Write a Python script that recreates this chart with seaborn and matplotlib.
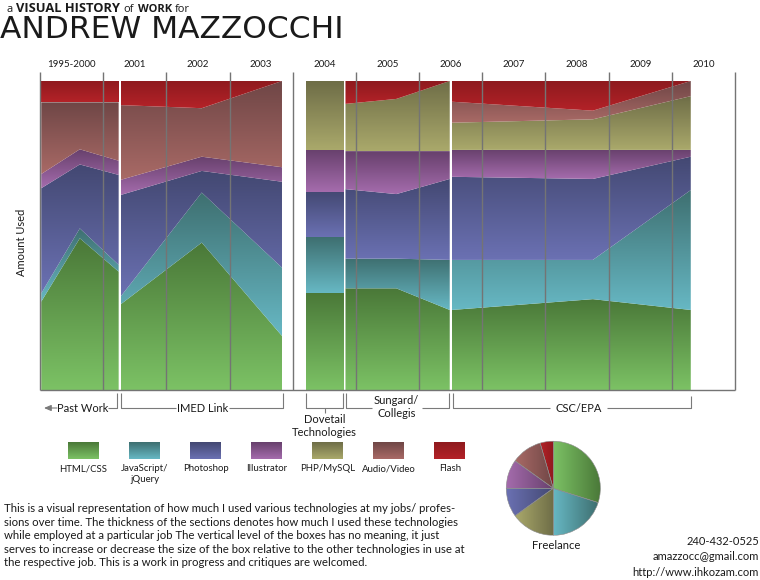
import numpy as np
import matplotlib
matplotlib.use("Agg")
import matplotlib.pyplot as plt
from matplotlib.colors import LinearSegmentedColormap
import seaborn as sns

# ---------------- data ----------------
technologies = ["HTML/CSS", "JavaScript/\njQuery", "Photoshop", "Illustrator",
                "PHP/MySQL", "Audio/Video", "Flash"]
top_colors = ["#4a7838", "#3e6f70", "#434872", "#67406c", "#6e6d47", "#6f4646", "#8e1a1e"]
bottom_colors = ["#7cc265", "#67b8c4", "#6b71b3", "#a56cad", "#aaa96b", "#a96a66", "#b42228"]

years = ["1995-2000", "2001", "2002", "2003", "2004", "2005",
         "2006", "2007", "2008", "2009", "2010"]

jobs = ["Past Work", "IMED Link", "Dovetail\nTechnologies", "Sungard/\nCollegis", "CSC/EPA"]

# x positions (year-column units) and usage per technology (rows follow `technologies`)
past_work_x = [0.02, 0.63, 1.245]
past_work_use = [[28.6, 49.1, 38.3], [2.7, 3.2, 2.2], [34.0, 20.7, 29.1], [4.6, 4.9, 4.6],
                 [0.0, 0.0, 0.0], [23.2, 15.2, 18.9], [6.9, 6.9, 6.9]]

imed_x = [1.275, 2.56, 3.83]
imed_use = [[27.7, 47.7, 17.5], [2.5, 16.2, 22.1], [32.9, 7.0, 27.8], [4.9, 4.6, 4.7],
            [0.0, 0.0, 0.0], [24.2, 15.7, 27.9], [7.8, 8.8, 0.0]]

dovetail_x = [4.21, 4.81]
dovetail_use = [[31.5, 31.5], [17.9, 17.9], [14.6, 14.6], [13.8, 13.8],
                [22.2, 22.2], [0.0, 0.0], [0.0, 0.0]]

sungard_x = [4.835, 5.64, 6.485]
sungard_use = [[32.9, 32.9, 25.9], [9.6, 9.6, 16.2], [22.5, 20.9, 26.2], [12.3, 13.9, 9.0],
               [15.3, 16.9, 22.7], [0.0, 0.0, 0.0], [7.4, 5.8, 0.0]]

csc_x = [6.515, 8.75, 10.30]
csc_use = [[25.9, 29.4, 25.9], [16.2, 12.7, 38.8], [26.9, 26.2, 10.8], [8.7, 9.4, 2.2],
           [8.8, 9.9, 17.4], [6.8, 2.8, 4.9], [6.7, 9.6, 0.0]]

freelance_order = ["HTML/CSS", "JavaScript/\njQuery", "PHP/MySQL", "Photoshop",
                   "Illustrator", "Audio/Video", "Flash"]
freelance_share = [29.9, 20.1, 15.1, 9.9, 9.9, 10.6, 4.5]

title_small = [("a", "normal"), ("VISUAL HISTORY", "bold"), ("of", "normal"),
               ("WORK", "bold"), ("for", "normal")]
title_big = "ANDREW MAZZOCCHI"
description = [
    "This is a visual representation of how much I used various technologies at my jobs/ profes-",
    "sions over time. The thickness of the sections denotes how much I used these technologies",
    "while employed at a particular job The vertical level of the boxes has no meaning, it just",
    "serves to increase or decrease the size of the box relative to the other technologies in use at",
    "the respective job. This is a work in progress and critiques are welcomed.",
]
contact = ["240-432-0525", "amazzocc@gmail.com", "http://www.ihkozam.com"]

# ---------------- style ----------------
sns.set_theme(style="white")
plt.rcParams["font.family"] = ["Lato", "DejaVu Sans"]
TXT = "#1a1a1a"
GRID = "#747474"

W, H = 760, 580
fig = plt.figure(figsize=(W / 100, H / 100), dpi=100)
fig.patch.set_facecolor("white")
renderer = fig.canvas.get_renderer()


def fx(px):
    return px / W


def fy(py):
    return 1 - py / H


def width_px(t):
    return t.get_window_extent(renderer=renderer).width


def fit(t, target):
    t.set_fontsize(t.get_fontsize() * target / width_px(t))
    return t


grad_v = np.linspace(0, 1, 256).reshape(-1, 1)
grad_h = np.linspace(0, 1, 256).reshape(1, -1)

# ---------------- main stacked chart ----------------
ax = fig.add_axes([fx(40), fy(390), 695 / W, 309 / H])
ax.set_axis_off()


def draw_job(xs, use):
    xs = np.asarray(xs, float)
    use = np.asarray(use, float)
    base = np.zeros(len(xs))
    for k in range(len(technologies)):
        top = base + use[k]
        if np.max(use[k]) > 0:
            poly = ax.fill_between(xs, base, top, color="none", lw=0)
            path = poly.get_paths()[0]
            cmap = LinearSegmentedColormap.from_list("g", [bottom_colors[k], top_colors[k]])
            im = ax.imshow(grad_v, extent=[xs.min(), xs.max(), base.min(), top.max()],
                           origin="lower", cmap=cmap, aspect="auto",
                           interpolation="bilinear", zorder=1)
            im.set_clip_path(path, transform=ax.transData)
        base = top


for xs, use in [(past_work_x, past_work_use), (imed_x, imed_use), (dovetail_x, dovetail_use),
                (sungard_x, sungard_use), (csc_x, csc_use)]:
    draw_job(xs, use)

ax.set_xlim(0, 11)
ax.set_ylim(0, 100)
ax.vlines(np.arange(0, 12), 0, 102.9, colors=GRID, lw=1.0, clip_on=False, zorder=3)
ax.hlines(0, 0, 11, colors=GRID, lw=1.0, clip_on=False, zorder=3)
for i, yl in enumerate(years):
    ax.text(i + 0.5, 105.3, yl, ha="center", va="center", fontsize=7.0,
            color=TXT, clip_on=False)

fig.text(fx(21.5), fy(242), "Amount Used", rotation=90, ha="center", va="center",
         fontsize=8.0, color=TXT)

# ---------------- overlay (pixel coordinates) ----------------
ov = fig.add_axes([0, 0, 1, 1], zorder=-1)
ov.set_xlim(0, W)
ov.set_ylim(H, 0)
ov.set_axis_off()
LC = "#7a7a7a"
LW = 0.8
JFS = 8.0


def pl(xs, ys):
    ov.plot(xs, ys, color=LC, lw=LW, solid_capstyle="butt")


# Past Work
ov.annotate("", xy=(44, 408), xytext=(57, 408),
            arrowprops=dict(arrowstyle="-|>,head_length=0.35,head_width=0.15",
                            color=LC, lw=LW, shrinkA=0, shrinkB=0))
ov.text(82.5, 408, jobs[0], ha="center", va="center", fontsize=JFS, color=TXT)
pl([108, 116.7, 116.7], [408, 408, 393])
# IMED Link
pl([176, 120.7, 120.7], [408, 408, 393])
ov.text(202.5, 408, jobs[1], ha="center", va="center", fontsize=JFS, color=TXT)
pl([229, 283, 283], [408, 408, 393])
# Dovetail
pl([305.7, 305.7, 343.3, 343.3], [393, 408, 408, 393])
pl([324.5, 324.5], [408, 413])
ov.text(324.5, 426, jobs[2], ha="center", va="center", fontsize=JFS, color=TXT,
        linespacing=1.2)
# Sungard
pl([345.7, 345.7, 371.7], [393, 408, 408])
ov.text(396.7, 407, jobs[3], ha="center", va="center", fontsize=JFS, color=TXT,
        linespacing=1.2)
pl([421.7, 449, 449], [408, 408, 393])
# CSC/EPA
pl([452.7, 452.7, 550], [393, 408, 408])
ov.text(578.3, 408, jobs[4], ha="center", va="center", fontsize=JFS, color=TXT)
pl([606.7, 690.7, 690.7], [408, 408, 396])

# legend swatches
for k, name in enumerate(technologies):
    cx = 83.3 + k * 61.1
    cmap = LinearSegmentedColormap.from_list("s", [top_colors[k], bottom_colors[k]])
    ov.imshow(grad_v, extent=[cx - 15.5, cx + 15.5, 459, 442], origin="upper",
              cmap=cmap, aspect="auto", interpolation="bilinear")
    ov.text(cx, 464, name, ha="center", va="top", fontsize=6.9, color=TXT,
            linespacing=1.3)
ov.set_xlim(0, W)
ov.set_ylim(H, 0)

# titles (small line laid out piece by piece)
x_cur = 6.5
for txt, wt in title_small:
    t = fig.text(fx(x_cur), fy(12.3), txt, ha="left", va="baseline", fontsize=8.0,
                 fontweight=wt, color=TXT, family=["Open Sans", "DejaVu Sans"])
    if txt == "VISUAL HISTORY":
        fit(t, 104)
    x_cur += width_px(t) + 3.5
big = fig.text(fx(0), fy(38.5), title_big, ha="left", va="baseline", fontsize=22,
               color=TXT, family=["DejaVu Sans"])
fit(big, 343)

# description
d0 = fig.text(fx(4), fy(508.5), description[0], ha="left", va="center", fontsize=7.5,
              color=TXT)
fit(d0, 448)
for i, line in enumerate(description[1:], start=1):
    fig.text(fx(4), fy(508.5 + i * 13.6), line, ha="left", va="center",
             fontsize=d0.get_fontsize(), color=TXT)

# contact
c_last = fig.text(fx(759), fy(541.5 + 2 * 15.5), contact[2], ha="right", va="center",
                  fontsize=7.5, color=TXT)
fit(c_last, 126)
for i, line in enumerate(contact[:2]):
    fig.text(fx(759), fy(541.5 + i * 15.5), line, ha="right", va="center",
             fontsize=c_last.get_fontsize(), color=TXT)

# ---------------- pie ----------------
R = 48
pax = fig.add_axes([fx(553.3 - R), fy(488.3 + R), 2 * R / W, 2 * R / H])
idx = [technologies.index(n) for n in freelance_order]
wedges, _ = pax.pie(freelance_share, startangle=90, counterclock=False,
                    colors=[bottom_colors[i] for i in idx],
                    wedgeprops=dict(edgecolor="#8a8a8a", lw=0.4))
for w, i in zip(wedges, idx):
    v = w.get_path().vertices
    cmap = LinearSegmentedColormap.from_list("p", [bottom_colors[i], top_colors[i]])
    im = pax.imshow(grad_h, extent=[v[:, 0].min(), v[:, 0].max(), v[:, 1].min(), v[:, 1].max()],
                    origin="lower", cmap=cmap, aspect="auto", interpolation="bilinear",
                    zorder=1)
    im.set_clip_path(w)
    w.set_facecolor("none")
    w.set_zorder(3)
pax.set_xlim(-1.02, 1.02)
pax.set_ylim(-1.02, 1.02)
pax.set_aspect("equal")
pax.set_axis_off()
fig.text(fx(556.5), fy(545.5), "Freelance", ha="center", va="center", fontsize=8.1, color=TXT)

fig.savefig("out.png", dpi=100)
